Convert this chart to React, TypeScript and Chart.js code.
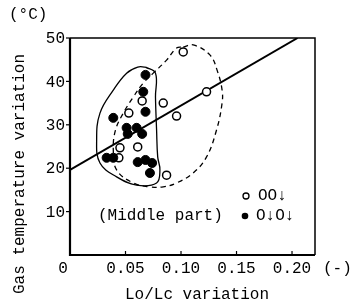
import React, { useEffect, useRef } from "react";
import { Chart, registerables } from "chart.js";

Chart.register(...registerables);

// Open circles: OO↓
const openX = [0.102, 0.123, 0.065, 0.084, 0.096, 0.053, 0.061, 0.045, 0.044, 0.087];
const openY = [46.8, 37.6, 35.5, 35.0, 32.0, 32.7, 24.9, 24.7, 22.4, 18.4];

// Filled circles: O↓O↓
const fillX = [0.068, 0.066, 0.068, 0.039, 0.051, 0.060, 0.052, 0.065, 0.033, 0.039, 0.061, 0.068, 0.074, 0.072];
const fillY = [41.5, 37.6, 33.0, 31.6, 29.3, 29.3, 27.9, 27.9, 22.4, 22.4, 21.4, 21.9, 21.2, 18.9];

// Regression line
const lineX = [0, 0.205];
const lineY = [19.6, 50];

// Solid boundary (filled group)
const solidX = [0.068, 0.077, 0.077, 0.078, 0.079, 0.081, 0.078, 0.060, 0.042, 0.027, 0.024, 0.027, 0.039, 0.051, 0.061, 0.068];
const solidY = [43.3, 41.9, 36.4, 28.8, 22.6, 19.6, 16.6, 16.1, 18.0, 21.2, 26.5, 32.7, 38.0, 41.9, 43.3, 43.3];

// Dashed boundary (open group)
const dashX = [0.102, 0.111, 0.126, 0.133, 0.137, 0.137, 0.132, 0.123, 0.111, 0.096, 0.084, 0.072, 0.057, 0.042, 0.039, 0.041, 0.048, 0.057, 0.066, 0.075, 0.087, 0.096, 0.102];
const dashY = [47.9, 48.4, 46.1, 42.2, 38.0, 35.0, 28.8, 22.6, 18.9, 16.6, 15.7, 15.7, 16.6, 19.6, 24.2, 28.8, 32.7, 36.4, 39.6, 41.9, 44.9, 47.7, 47.9];

const xTicks = [0.05, 0.1, 0.15, 0.2];
const xTickLabels = ["0.05", "0.10", "0.15", "0.20"];
const yTicks = [10, 20, 30, 40, 50];
const yTickLabels = ["10", "20", "30", "40", "50"];

const xMin = 0;
const xMax = 0.2207;
const yMin = 0;
const yMax = 50;

const FONT = '16px "Liberation Mono", "DejaVu Sans Mono", monospace';

const pts = (xs: number[], ys: number[]) => xs.map((x, i) => ({ x, y: ys[i] }));

const decor = {
  id: "decor",
  afterDraw(chart: any) {
    const ctx = chart.ctx;
    const { left, right, top, bottom } = chart.chartArea;
    const xs = chart.scales.x;
    const ys = chart.scales.y;
    ctx.save();
    ctx.strokeStyle = "#000";
    ctx.fillStyle = "#000";
    // box
    ctx.lineWidth = 1.5;
    ctx.beginPath();
    ctx.moveTo(left, top);
    ctx.lineTo(right, top);
    ctx.lineTo(right, bottom);
    ctx.stroke();
    ctx.lineWidth = 2.2;
    ctx.beginPath();
    ctx.moveTo(left, top);
    ctx.lineTo(left, bottom);
    ctx.lineTo(right, bottom);
    ctx.stroke();
    // ticks
    ctx.lineWidth = 1.2;
    xTicks.forEach((v) => {
      const px = xs.getPixelForValue(v);
      ctx.beginPath();
      ctx.moveTo(px, bottom);
      ctx.lineTo(px, bottom - 4);
      ctx.stroke();
    });
    yTicks.forEach((v) => {
      const py = ys.getPixelForValue(v);
      ctx.beginPath();
      ctx.moveTo(left, py);
      ctx.lineTo(left - 4, py);
      ctx.stroke();
    });
    ctx.font = FONT;
    ctx.textBaseline = "middle";
    ctx.textAlign = "center";
    xTicks.forEach((v, i) => {
      ctx.fillText(xTickLabels[i], xs.getPixelForValue(v), bottom + 14);
    });
    ctx.fillText("0", left - 7, bottom + 14);
    ctx.textAlign = "left";
    ctx.fillText("(-)", right + 8, bottom + 14);
    ctx.textAlign = "right";
    yTicks.forEach((v, i) => {
      ctx.fillText(yTickLabels[i], left - 5, ys.getPixelForValue(v) + 1);
    });
    ctx.textAlign = "left";
    ctx.fillText("(°C)", 9, 15);
    // axis titles
    ctx.textAlign = "center";
    ctx.fillText("Lo/Lc variation", 197, 295);
    ctx.save();
    ctx.translate(20, 174);
    ctx.rotate(-Math.PI / 2);
    ctx.fillText("Gas temperature variation", 0, 0);
    ctx.restore();
    // annotations / legend
    ctx.textAlign = "left";
    ctx.fillText("(Middle part)", 98, 216);
    ctx.fillText("OO↓", 258, 196);
    ctx.fillText("O↓O↓", 256, 216);
    ctx.lineWidth = 1.3;
    ctx.beginPath();
    ctx.arc(246, 196, 3, 0, Math.PI * 2);
    ctx.stroke();
    ctx.beginPath();
    ctx.arc(245, 216, 3.3, 0, Math.PI * 2);
    ctx.fill();
    ctx.restore();
  },
};

export default function App() {
  const ref = useRef<HTMLCanvasElement | null>(null);
  useEffect(() => {
    document.body.style.margin = "0";
    const canvas = ref.current;
    if (!canvas) return;
    const chart = new Chart(canvas, {
      type: "scatter",
      data: {
        datasets: [
          {
            label: "O↓O↓",
            data: pts(fillX, fillY),
            pointRadius: 4.5,
            pointBackgroundColor: "#000",
            pointBorderColor: "#000",
            pointBorderWidth: 1,
          },
          {
            label: "OO↓",
            data: pts(openX, openY),
            pointRadius: 4,
            pointBackgroundColor: "#fff",
            pointBorderColor: "#000",
            pointBorderWidth: 1.5,
          },
          {
            label: "fit",
            data: pts(lineX, lineY),
            showLine: true,
            pointRadius: 0,
            borderColor: "#000",
            borderWidth: 2,
          },
          {
            label: "solid",
            data: pts(solidX, solidY),
            showLine: true,
            pointRadius: 0,
            borderColor: "#000",
            borderWidth: 1.3,
            tension: 0.4,
          },
          {
            label: "dash",
            data: pts(dashX, dashY),
            showLine: true,
            pointRadius: 0,
            borderColor: "#000",
            borderWidth: 1.3,
            borderDash: [5, 4],
            tension: 0.4,
          },
        ],
      },
      options: {
        animation: false,
        responsive: false,
        layout: { padding: { left: 70, right: 43, top: 38, bottom: 51 } },
        plugins: { legend: { display: false }, tooltip: { enabled: false } },
        scales: {
          x: { type: "linear", min: xMin, max: xMax, display: false },
          y: { type: "linear", min: yMin, max: yMax, display: false },
        },
      },
      plugins: [decor],
    });
    return () => chart.destroy();
  }, []);
  return (
    <div style={{ width: 358, height: 306, background: "#fff" }}>
      <canvas ref={ref} width={358} height={306} />
    </div>
  );
}
